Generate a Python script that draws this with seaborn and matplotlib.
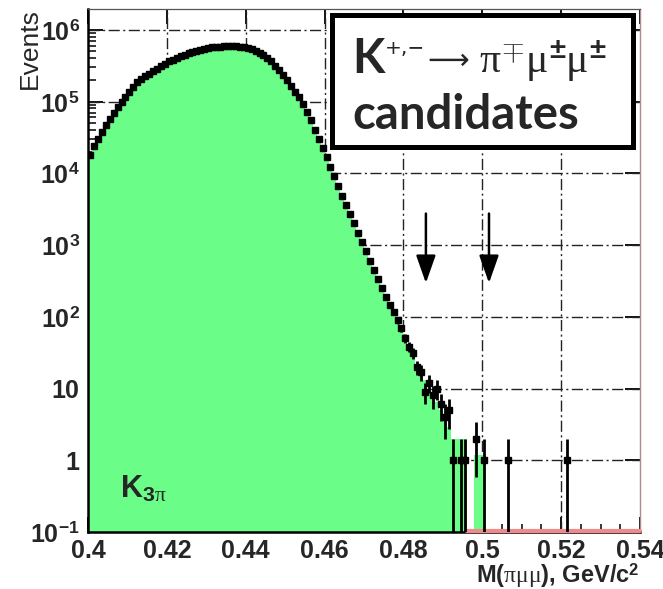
import numpy as np
import pandas as pd
import seaborn as sns
import matplotlib.pyplot as plt
from matplotlib.patches import Rectangle
from matplotlib.ticker import FixedLocator, FixedFormatter, MultipleLocator

# bins of 1 MeV from 0.400 GeV
bin_w = 0.001
bin_lo = 0.400

# K3pi MC (green histogram), events per bin
mc_counts = [17800, 24000, 30200, 38000, 46800, 57500, 69200, 83200, 100000, 117500,
             138000, 158500, 186200, 204200, 223900, 245500, 269200, 288400, 316200, 338800,
             363100, 380200, 407400, 426600, 446700, 467700, 489800, 512900, 524800, 537000,
             555900, 568900, 575400, 582100, 588800, 588800, 588800, 588800, 582100, 575400,
             562300, 537000, 512900, 478600, 446700, 407400, 363100, 316200, 275400, 234400,
             199500, 166000, 138000, 114800, 93300, 72400, 55000, 40700, 30200, 22400,
             16600, 12300, 9120, 6610, 4900, 3630, 2690, 2000, 1480, 1100,
             813, 603, 447, 331, 251, 191, 148, 115, 89, 69,
             52, 40, 30, 22, 17, 13, 10, 8, 6.5, 5,
             3.5, 2.9, 2, 2, 2, 2, 0, 0, 1.2, 1.2,
             1.2, 0]

# data: same as MC in the bulk, own values in the tail
data_tail = [50, 38, 31, 20, 17, 9, 12, 8, 10, 6, 4, 5, 1]
data_counts = mc_counts[:80] + data_tail
data_extra_x = [0.4945, 0.4955, 0.4985, 0.5005, 0.5065, 0.5215]
data_extra_n = [1, 1, 2, 1, 1, 1]

signal_edges = [0.4857, 0.5017]

x_ticks = [0.40, 0.42, 0.44, 0.46, 0.48, 0.50, 0.52, 0.54]
x_labels = ["0.4", "0.42", "0.44", "0.46", "0.48", "0.5", "0.52", "0.54"]
y_ticks = [1e-1, 1, 10, 1e2, 1e3, 1e4, 1e5, 1e6]
y_labels = [r"$10^{-1}$", "1", "10", r"$10^{2}$", r"$10^{3}$", r"$10^{4}$", r"$10^{5}$", r"$10^{6}$"]

sns.set_theme(style="ticks")
plt.rcParams["font.family"] = ["Liberation Sans", "DejaVu Sans"]
plt.rcParams["mathtext.fontset"] = "custom"
plt.rcParams["mathtext.rm"] = "Liberation Sans:bold"
plt.rcParams["mathtext.bf"] = "Liberation Sans:bold"
plt.rcParams["mathtext.it"] = "Liberation Serif"

W, H = 663, 589
fig = plt.figure(figsize=(W / 100, H / 100), dpi=100)
ax = fig.add_axes([88 / W, 1 - 532 / H, 552 / W, 523 / H])


def px(x, y):
    return x / W, 1 - y / H


mc = pd.DataFrame({
    "m": bin_lo + bin_w * (np.arange(len(mc_counts)) + 0.5),
    "n": mc_counts,
})

ax.set_yscale("log")
sns.histplot(data=mc, x="m", weights="n", bins=len(mc_counts),
             binrange=(bin_lo, bin_lo + bin_w * len(mc_counts)), element="step", fill=True,
             color="#6afe88", alpha=1, linewidth=0, ax=ax, zorder=2)

# data points
dx = list(bin_lo + bin_w * (np.arange(len(data_counts)) + 0.5)) + data_extra_x
dn = np.array(data_counts + data_extra_n, dtype=float)
err = np.sqrt(dn)
err_lo = np.minimum(err, dn * 0.999)
ax.errorbar(dx, dn, yerr=[err_lo, err], xerr=bin_w / 2, fmt="s", color="black",
            markersize=4.4, elinewidth=2.0, capsize=0, zorder=4)

# red signal histogram along the bottom
ax.plot([0.4961, 0.54], [0.104, 0.104], color="#f08a8a", lw=3, zorder=3, clip_on=False)

for xs in signal_edges:
    ax.annotate("", xy=(xs, 270), xytext=(xs, 3000),
                arrowprops=dict(arrowstyle="-|>,head_length=0.68,head_width=0.24",
                                mutation_scale=25, color="black", lw=1.8), zorder=5)

ax.set_xlim(0.40, 0.54)
ax.set_ylim(0.1, 10 ** 6.29)
ax.xaxis.set_major_locator(FixedLocator(x_ticks))
ax.xaxis.set_major_formatter(FixedFormatter(x_labels))
ax.xaxis.set_minor_locator(MultipleLocator(0.005))
ax.yaxis.set_major_locator(FixedLocator(y_ticks))
ax.yaxis.set_major_formatter(FixedFormatter(y_labels))

for g in [0.42, 0.44, 0.46, 0.48, 0.50, 0.52]:
    ax.axvline(g, color="#222222", lw=1.0, ls=(0, (8, 2.5, 1.5, 2.5)), zorder=1)
for g in y_ticks[1:]:
    ax.axhline(g, color="#222222", lw=1.0, ls=(0, (8, 2.5, 1.5, 2.5)), zorder=1)

ax.tick_params(which="major", direction="in", length=11, width=1.3, top=True, right=True,
               labelsize=18, color="black")
ax.tick_params(axis="x", which="major", pad=5)
ax.tick_params(axis="y", which="major", pad=6)
ax.tick_params(which="minor", direction="in", length=5.5, width=1.1, color="black")
for lab in ax.get_xticklabels() + ax.get_yticklabels():
    lab.set_fontweight("bold")

ax.spines["left"].set_linewidth(1.8)
ax.spines["bottom"].set_linewidth(1.8)
ax.spines["left"].set_color("black")
ax.spines["bottom"].set_color("black")
ax.spines["top"].set_linewidth(0.9)
ax.spines["top"].set_color("#555555")
ax.spines["right"].set_linewidth(1.0)
ax.spines["right"].set_color("#b08a8a")
ax.set_xlabel("")
ax.set_ylabel("")

fig.text(*px(30, 8), "Events", rotation=90, ha="center", va="top", fontsize=19)
fig.text(*px(640, 583), r"M($\pi\mu\mu$), GeV/c$^{2}$", ha="right", va="baseline",
         fontsize=17, fontweight="bold")

# K3pi label
fig.text(*px(120, 498), r"K$_{3\pi}$", ha="left", va="baseline", fontsize=22,
         fontweight="bold")

# decay box
fig.add_artist(Rectangle(px(332, 147), (633 - 332) / W, (147 - 15) / H,
                         transform=fig.transFigure, facecolor="white",
                         edgecolor="black", lw=3.6, zorder=6))
fig.text(*px(352, 73), "K", family=["Lato", "DejaVu Sans"], fontweight="bold",
         fontsize=34, ha="left", va="baseline", zorder=7)
fig.text(*px(385, 49), "+,\u2212", family=["DejaVu Sans"], fontsize=14.5,
         ha="left", va="center", zorder=7)
fig.text(*px(427, 61), "\u27f6", family=["DejaVu Sans"], fontsize=21,
         ha="left", va="center", zorder=7)
fig.text(*px(479, 73), r"$\pi^{\mp}\mu^{\pm}\mu^{\pm}$", fontsize=30,
         ha="left", va="baseline", zorder=7)
fig.text(*px(352, 129), "candidates", family=["Lato", "DejaVu Sans"], fontweight="bold",
         fontsize=34, ha="left", va="baseline", zorder=7)

fig.savefig("out.png", dpi=100)
